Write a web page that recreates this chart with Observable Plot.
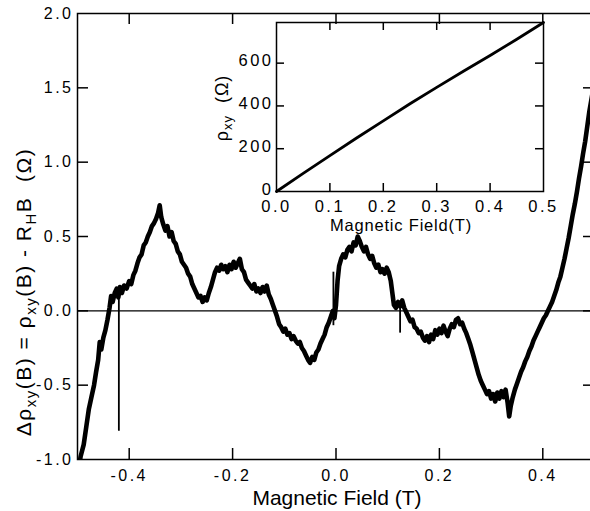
<!DOCTYPE html>
<html><head><meta charset="utf-8">
<script src="https://cdn.jsdelivr.net/npm/d3@7"></script>
<script src="https://cdn.jsdelivr.net/npm/@observablehq/plot@0.6"></script>
<style>
html,body{margin:0;padding:0;background:#fff;overflow:hidden;}
#wrap{position:relative;width:600px;height:511px;overflow:hidden;}
#wrap svg{position:absolute;}
</style></head><body><div id="wrap"></div>
<script>
// Main trace: magnetic field (T) and Δρxy (Ω)
const field = [
-0.500,-0.494,-0.488,-0.483,-0.478,-0.473,-0.468,-0.464,-0.460,-0.457,
-0.454,-0.450,-0.446,-0.442,-0.438,-0.435,-0.432,-0.428,-0.424,-0.421,
-0.418,-0.414,-0.410,-0.405,-0.400,-0.396,-0.392,-0.388,-0.384,-0.380,
-0.376,-0.372,-0.368,-0.364,-0.360,-0.356,-0.352,-0.348,-0.344,-0.341,
-0.338,-0.334,-0.330,-0.326,-0.322,-0.318,-0.314,-0.310,-0.306,-0.302,
-0.298,-0.294,-0.290,-0.286,-0.282,-0.278,-0.274,-0.270,-0.266,-0.262,
-0.258,-0.254,-0.250,-0.246,-0.242,-0.238,-0.234,-0.230,-0.226,-0.222,
-0.218,-0.214,-0.210,-0.206,-0.202,-0.198,-0.194,-0.190,-0.186,-0.182,
-0.178,-0.174,-0.170,-0.166,-0.162,-0.158,-0.154,-0.150,-0.146,-0.142,
-0.138,-0.134,-0.130,-0.126,-0.122,-0.118,-0.114,-0.110,-0.106,-0.102,
-0.098,-0.094,-0.090,-0.086,-0.082,-0.078,-0.074,-0.070,-0.066,-0.062,
-0.058,-0.054,-0.050,-0.046,-0.042,-0.038,-0.034,-0.030,-0.026,-0.022,
-0.018,-0.014,-0.010,-0.006,-0.003,0.000,0.003,0.006,0.010,0.014,
0.018,0.022,0.026,0.030,0.034,0.038,0.042,0.046,0.050,0.054,
0.058,0.062,0.066,0.070,0.074,0.078,0.082,0.086,0.090,0.094,
0.098,0.102,0.106,0.109,0.112,0.116,0.120,0.124,0.128,0.132,
0.136,0.140,0.144,0.148,0.152,0.156,0.160,0.164,0.168,0.172,
0.176,0.180,0.184,0.188,0.192,0.196,0.200,0.204,0.208,0.212,
0.216,0.220,0.224,0.228,0.232,0.236,0.240,0.244,0.248,0.252,
0.256,0.260,0.264,0.268,0.272,0.276,0.280,0.284,0.288,0.292,
0.296,0.300,0.304,0.308,0.312,0.316,0.320,0.324,0.328,0.332,
0.335,0.338,0.342,0.346,0.350,0.354,0.358,0.362,0.366,0.370,
0.374,0.378,0.382,0.386,0.390,0.394,0.398,0.402,0.406,0.410,
0.414,0.418,0.422,0.426,0.430,0.434,0.438,0.442,0.446,0.450,
0.454,0.458,0.462,0.466,0.470,0.474,0.478,0.482,0.486,0.490,
0.494,0.498,0.500
];
const deltaRho = [
-1.12,-0.98,-0.90,-0.78,-0.66,-0.58,-0.50,-0.41,-0.33,-0.21,
-0.26,-0.18,-0.13,-0.06,0.02,0.10,0.06,0.12,0.15,0.09,
0.16,0.12,0.17,0.15,0.20,0.18,0.24,0.27,0.32,0.36,
0.38,0.44,0.46,0.50,0.53,0.57,0.59,0.62,0.66,0.71,
0.63,0.58,0.54,0.57,0.50,0.53,0.47,0.45,0.40,0.38,
0.33,0.31,0.29,0.25,0.23,0.18,0.15,0.12,0.09,0.10,
0.06,0.09,0.07,0.12,0.16,0.21,0.26,0.29,0.27,0.31,
0.28,0.30,0.26,0.31,0.28,0.33,0.29,0.32,0.35,0.28,
0.26,0.21,0.19,0.17,0.15,0.18,0.13,0.15,0.12,0.16,
0.13,0.17,0.11,0.08,0.04,0.00,-0.04,-0.09,-0.11,-0.14,
-0.12,-0.16,-0.15,-0.19,-0.17,-0.20,-0.22,-0.21,-0.25,-0.27,
-0.30,-0.33,-0.35,-0.31,-0.33,-0.28,-0.26,-0.22,-0.19,-0.16,
-0.11,-0.08,-0.04,0.00,-0.05,0.04,0.20,0.30,0.35,0.38,
0.36,0.41,0.43,0.40,0.46,0.44,0.50,0.47,0.43,0.40,
0.43,0.38,0.35,0.37,0.32,0.29,0.31,0.26,0.28,0.25,
0.29,0.26,0.20,0.12,0.04,0.02,0.06,0.03,0.07,0.02,
-0.01,-0.04,-0.07,-0.06,-0.11,-0.12,-0.15,-0.14,-0.18,-0.20,
-0.17,-0.21,-0.16,-0.19,-0.13,-0.16,-0.12,-0.15,-0.10,-0.14,
-0.17,-0.12,-0.09,-0.11,-0.06,-0.05,-0.09,-0.08,-0.12,-0.15,
-0.19,-0.23,-0.28,-0.33,-0.38,-0.43,-0.47,-0.50,-0.53,-0.56,
-0.54,-0.59,-0.56,-0.61,-0.55,-0.59,-0.54,-0.58,-0.53,-0.62,
-0.71,-0.64,-0.58,-0.53,-0.49,-0.45,-0.41,-0.38,-0.34,-0.31,
-0.27,-0.24,-0.20,-0.17,-0.14,-0.11,-0.08,-0.05,-0.03,0.00,
0.03,0.06,0.10,0.14,0.19,0.23,0.29,0.35,0.42,0.49,
0.57,0.65,0.72,0.80,0.89,0.97,1.06,1.14,1.24,1.34,
1.42,1.50,1.53
];
// Narrow spikes in the trace
const spikeField = [-0.420, -0.005, 0.124];
const spikeLow = [-0.81, -0.10, -0.15];
const spikeHigh = [0.12, 0.26, 0.05];

// Main axes ticks
const xTicks = [-0.4, -0.2, 0.0, 0.2, 0.4];
const yTicks = [-1.0, -0.5, 0.0, 0.5, 1.0, 1.5, 2.0];
const yInnerTicks = [-0.5, 0.0, 0.5, 1.0, 1.5];

// Inset: rho_xy vs field
const insetField = [0.0, 0.05, 0.1, 0.15, 0.2, 0.25, 0.3, 0.35, 0.4, 0.45, 0.5];
const insetRho = [0, 85, 168, 250, 330, 410, 487, 562, 636, 712, 790];
const insetXTicks = [0.0, 0.1, 0.2, 0.3, 0.4, 0.5];
const insetXInner = [0.1, 0.2, 0.3, 0.4];
const insetYTicks = [0, 200, 400, 600];
const insetYInner = [200, 400, 600];

const curve = field.map((b, i) => ({b, v: deltaRho[i]}));
const spikes = spikeField.map((b, i) => ({b, lo: spikeLow[i], hi: spikeHigh[i]}));
const insetData = insetField.map((b, i) => ({b, r: insetRho[i]}));

const FONT = '"Liberation Sans", Arial, Helvetica, sans-serif';
const fmt1 = d => d.toFixed(1);

const main = Plot.plot({
  width: 600, height: 511,
  marginLeft: 77, marginRight: 6, marginTop: 13, marginBottom: 52,
  style: {fontFamily: FONT, fontSize: "16px", letterSpacing: "2.5px", maxWidth: "none", background: "white", color: "black"},
  x: {domain: [-0.5, 0.5]},
  y: {domain: [-1, 2]},
  marks: [
    Plot.ruleY([0], {stroke: "black", strokeWidth: 1.3}),
    Plot.line(curve, {x: "b", y: "v", stroke: "black", strokeWidth: 4.6, strokeLinejoin: "round", clip: true}),
    Plot.ruleX(spikes, {x: "b", y1: "lo", y2: "hi", stroke: "black", strokeWidth: 1.8}),
    Plot.tickX(xTicks, {x: d => d, insetTop: 435, strokeWidth: 1.5}),
    Plot.tickX(xTicks, {x: d => d, insetBottom: 435, strokeWidth: 1.5}),
    Plot.tickY(yInnerTicks, {y: d => d, insetRight: 506, strokeWidth: 1.5}),
    Plot.tickY(yInnerTicks, {y: d => d, insetLeft: 506, strokeWidth: 1.5}),
    Plot.axisX(xTicks, {tickSize: 0, tickPadding: 10, tickFormat: fmt1, label: null}),
    Plot.axisY(yTicks, {tickSize: 0, tickPadding: 4, tickFormat: fmt1, label: null}),
    Plot.frame({stroke: "black", strokeWidth: 1.5})
  ]
});

const ms = d3.select(main).style("left", "0px").style("top", "0px");
ms.append("text")
  .attr("x", 337).attr("y", 505)
  .attr("text-anchor", "middle")
  .style("font-size", "21px").style("letter-spacing", "0px")
  .attr("fill", "black")
  .text("Magnetic Field (T)");

const yt = ms.append("text")
  .attr("transform", "translate(31,292) rotate(-90)")
  .attr("text-anchor", "middle")
  .style("font-size", "21px").style("letter-spacing", "1.5px")
  .attr("fill", "black");
yt.append("tspan").text("Δρ");
yt.append("tspan").attr("dy", 5).style("font-size", "15px").text("xy");
yt.append("tspan").attr("dy", -5).text("(B) = ρ");
yt.append("tspan").attr("dy", 5).style("font-size", "15px").text("xy");
yt.append("tspan").attr("dy", -5).text("(B) - R");
yt.append("tspan").attr("dy", 5).style("font-size", "15px").text("H");
yt.append("tspan").attr("dy", -5).text("B  (Ω)");

const inset = Plot.plot({
  width: 360, height: 232,
  marginLeft: 76, marginRight: 17, marginTop: 22, marginBottom: 41,
  style: {fontFamily: FONT, fontSize: "16.5px", letterSpacing: "2.5px", maxWidth: "none", background: "transparent", color: "black", overflow: "visible"},
  x: {domain: [0, 0.5]},
  y: {domain: [0, 790]},
  marks: [
    Plot.line(insetData, {x: "b", y: "r", stroke: "black", strokeWidth: 2.8}),
    Plot.tickX(insetXInner, {x: d => d, insetTop: 161, strokeWidth: 1.5}),
    Plot.tickX(insetXInner, {x: d => d, insetBottom: 161, strokeWidth: 1.5}),
    Plot.tickY(insetYInner, {y: d => d, insetRight: 259, strokeWidth: 1.5}),
    Plot.tickY(insetYInner, {y: d => d, insetLeft: 259, strokeWidth: 1.5}),
    Plot.axisX(insetXTicks, {tickSize: 0, tickPadding: 9, tickFormat: fmt1, label: null}),
    Plot.axisY(insetYTicks, {tickSize: 0, tickPadding: 3, dy: -2, label: null}),
    Plot.frame({stroke: "black", strokeWidth: 1.5})
  ]
});
const is = d3.select(inset).style("left", "200px").style("top", "0px");
is.append("text")
  .attr("x", 201).attr("y", 231)
  .attr("text-anchor", "middle")
  .style("font-size", "16.5px").style("letter-spacing", "0.8px")
  .attr("fill", "black")
  .text("Magnetic Field(T)");
const iy = is.append("text")
  .attr("transform", "translate(28,108) rotate(-90)")
  .attr("text-anchor", "middle")
  .style("font-size", "18px").style("letter-spacing", "1px")
  .attr("fill", "black");
iy.append("tspan").text("ρ");
iy.append("tspan").attr("dy", 4).style("font-size", "13px").text("xy");
iy.append("tspan").attr("dy", -4).text("  (Ω)");

const wrap = document.getElementById("wrap");
wrap.appendChild(main);
wrap.appendChild(inset);
</script>
</body></html>
